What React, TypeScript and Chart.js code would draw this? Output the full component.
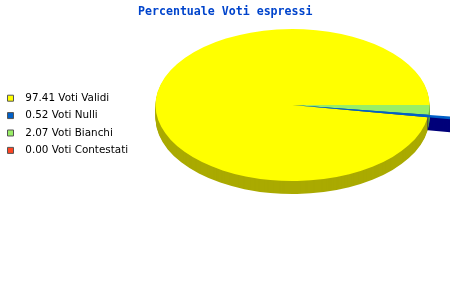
import React, { useEffect, useRef } from 'react';
import { Chart, registerables } from 'chart.js';

Chart.register(...registerables);

// ---- data ----
const titleText = 'Percentuale Voti espressi';
const categories = ['Voti Validi', 'Voti Nulli', 'Voti Bianchi', 'Voti Contestati'];
const values = [97.41, 0.52, 2.07, 0.0];

// ---- styles ----
const topColors = ['#ffff00', '#0060c8', '#99ee66', '#ff4422'];
const sideColors = ['#aaaa00', '#00007a', '#66aa44', '#aa2d16'];
const radiusExtend = [1, 1.3, 1, 1];

// pChart draws the slices counter-clockwise; Chart.js clockwise, so reverse the order
const rev = <T,>(a: T[]) => a.slice().reverse();

const pie3d = {
  id: 'pie3d',
  beforeDatasetsDraw(chart: any, _args: any, opts: any) {
    const ctx = chart.ctx as CanvasRenderingContext2D;
    const ds = chart.data.datasets[0];
    const arcs = chart.getDatasetMeta(0).data;
    if (!arcs.length) return;
    const p0 = arcs[0].getProps(['x', 'y', 'outerRadius'], true);
    const R = p0.outerRadius;
    const sx = opts.rx / R;
    const sy = opts.ry / R;
    const wedge = (a0: number, a1: number, r: number, dy: number, color: string) => {
      ctx.save();
      ctx.translate(opts.cx, opts.cy + dy);
      ctx.scale(sx, sy);
      ctx.beginPath();
      ctx.moveTo(0, 0);
      ctx.arc(0, 0, r, a0, a1);
      ctx.closePath();
      ctx.fillStyle = color;
      ctx.fill();
      ctx.restore();
    };
    const ang = arcs.map((a: any) => a.getProps(['startAngle', 'endAngle'], true));
    for (let d = opts.depth; d >= 1; d--) {
      ang.forEach((g: any, i: number) => {
        if (ds.extend[i] > 1 && g.endAngle > g.startAngle)
          wedge(g.startAngle, g.endAngle, R * ds.extend[i], d, ds.sideColors[i]);
      });
    }
    for (let d = opts.depth; d >= 1; d--) {
      ang.forEach((g: any, i: number) => {
        if (g.endAngle > g.startAngle) wedge(g.startAngle, g.endAngle, R, d, ds.sideColors[i]);
      });
    }
    ctx.save();
    ctx.translate(opts.cx, opts.cy);
    ctx.scale(sx, sy);
    ctx.translate(-p0.x, -p0.y);
  },
  afterDatasetsDraw(chart: any, _args: any, opts: any) {
    const ctx = chart.ctx as CanvasRenderingContext2D;
    ctx.restore();
    const ds = chart.data.datasets[0];
    const arcs = chart.getDatasetMeta(0).data;
    if (!arcs.length) return;
    const R = arcs[0].getProps(['outerRadius'], true).outerRadius;
    arcs.forEach((a: any, i: number) => {
      const g = a.getProps(['startAngle', 'endAngle'], true);
      if (ds.extend[i] > 1 && g.endAngle > g.startAngle) {
        ctx.save();
        ctx.translate(opts.cx, opts.cy);
        ctx.scale(opts.rx / R, opts.ry / R);
        ctx.beginPath();
        ctx.moveTo(0, 0);
        ctx.arc(0, 0, R * ds.extend[i], g.startAngle, g.endAngle);
        ctx.closePath();
        ctx.fillStyle = ds.backgroundColor[i];
        ctx.fill();
        ctx.restore();
      }
    });
  },
};

export default function App() {
  const ref = useRef<HTMLCanvasElement>(null);
  useEffect(() => {
    const labels = categories.map((c, i) => `${values[i].toFixed(2)} ${c}`);
    const chart = new Chart(ref.current as HTMLCanvasElement, {
      type: 'pie',
      data: {
        labels: rev(labels),
        datasets: [
          {
            data: rev(values),
            backgroundColor: rev(topColors),
            borderWidth: 0,
            clip: false,
            sideColors: rev(sideColors),
            extend: rev(radiusExtend),
          } as any,
        ],
      },
      plugins: [pie3d as any],
      options: {
        responsive: false,
        animation: false,
        devicePixelRatio: 1,
        events: [],
        rotation: 90,
        layout: { padding: { left: 0.5, bottom: 51.42 } },
        plugins: {
          title: {
            display: true,
            text: titleText,
            color: '#0044cc',
            font: { family: 'DejaVu Sans Mono', size: 11.6, weight: 'bold', lineHeight: 1.2 },
            padding: { top: 5.5, bottom: 10 },
          },
          legend: {
            display: true,
            position: 'left',
            align: 'center',
            reverse: true,
            labels: {
              boxWidth: 6,
              boxHeight: 6,
              padding: 7,
              color: '#2a2a2a',
              font: { family: 'DejaVu Sans', size: 10.4 },
              generateLabels: (ch: any) => {
                const ds = ch.data.datasets[0];
                return ch.data.labels.map((l: string, i: number) => ({
                  text: '  ' + l,
                  fillStyle: ds.backgroundColor[i],
                  strokeStyle: '#555',
                  lineWidth: 1,
                  hidden: false,
                  index: i,
                }));
              },
            },
          },
          tooltip: { enabled: false },
          pie3d: { cx: 292.5, cy: 105, rx: 137, ry: 76, depth: 13 },
        } as any,
      },
    });
    return () => chart.destroy();
  }, []);
  return (
    <div style={{ position: 'fixed', left: 0, top: 0, width: 450, height: 300, background: '#fff' }}>
      <canvas ref={ref} width={450} height={300} style={{ display: 'block', width: 450, height: 300 }} />
    </div>
  );
}
